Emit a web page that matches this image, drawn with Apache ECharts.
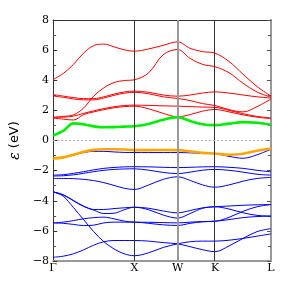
<!DOCTYPE html>
<html>
<head>
<meta charset="utf-8">
<script src="https://cdn.jsdelivr.net/npm/echarts@6/dist/echarts.min.js"></script>
<style>html,body{margin:0;padding:0;background:#fff}#c{width:291px;height:291px}</style>
</head>
<body>
<div id="c"></div>
<script>
// high-symmetry points (path distance) and labels
const kPos = [0, 1, 1.534, 1.994, 2.683];
const kLabels = ['Γ', 'X', 'W', 'K', 'L'];
// sample k positions along path
const kGrid = [0, 0.125, 0.25, 0.375, 0.5, 0.625, 0.75, 0.875, 1, 1.178, 1.356, 1.534, 1.687, 1.841, 1.994, 2.166, 2.339, 2.511, 2.683];
const yTicks = [-8, -6, -4, -2, 0, 2, 4, 6, 8];

// lowest conduction band (green) and top valence band (orange)
const condLowest = [0.33, 0.64, 1.14, 1.07, 0.94, 0.88, 0.89, 0.92, 0.95, 1.1, 1.38, 1.55, 1.3, 1.08, 1.02, 1.12, 1.22, 1.18, 1.04];
const valTop = [-1.2, -1.12, -0.95, -0.75, -0.62, -0.58, -0.58, -0.6, -0.64, -0.64, -0.63, -0.64, -0.72, -0.82, -0.86, -0.95, -0.88, -0.68, -0.53];

// other conduction bands (red)
const cb1 = [1.48, 1.42, 1.36, 1.72, 1.9, 2.05, 2.17, 2.25, 2.28, 2.1, 1.8, 1.57, 1.72, 1.95, 2.06, 1.9, 1.7, 1.55, 1.45];
const cb2 = [1.52, 1.55, 1.62, 1.8, 1.97, 2.12, 2.24, 2.32, 2.35, 2.33, 2.3, 2.28, 2.25, 2.22, 2.2, 2.0, 1.78, 1.6, 1.5];
const cb3 = [2.95, 2.87, 2.76, 2.7, 2.7, 2.82, 3.0, 3.14, 3.2, 3.1, 2.9, 2.79, 2.65, 2.45, 2.32, 2.05, 1.9, 2.25, 2.75];
const cb4 = [3.05, 2.95, 2.85, 2.78, 2.78, 2.9, 3.08, 3.22, 3.28, 3.2, 3.02, 2.94, 3.02, 3.15, 3.23, 3.15, 3.02, 2.9, 2.82];
const cb5 = [1.55, 1.6, 1.7, 2.15, 2.95, 3.5, 3.85, 3.98, 4.03, 4.5, 5.7, 6.04, 5.45, 5.05, 4.9, 4.5, 3.8, 3.22, 2.88];
const cb6 = [4.05, 4.45, 5.05, 5.8, 6.3, 6.4, 6.22, 6.02, 5.93, 6.08, 6.32, 6.55, 6.12, 5.9, 5.8, 5.25, 4.4, 3.58, 2.95];

// other valence bands (blue)
const vb1 = [-1.2, -1.12, -0.97, -0.8, -0.72, -0.72, -0.76, -0.79, -0.8, -0.8, -0.8, -0.8, -0.82, -0.85, -0.87, -1.05, -1.18, -0.95, -0.58];
const vb2 = [-2.3, -2.27, -2.18, -2.07, -1.95, -1.85, -1.79, -1.75, -1.74, -1.75, -1.78, -1.8, -1.78, -1.75, -1.74, -1.78, -1.85, -1.98, -2.08];
const vb3 = [-2.36, -2.34, -2.28, -2.18, -2.07, -1.98, -1.92, -1.89, -1.88, -1.97, -2.12, -2.2, -2.1, -1.97, -1.92, -1.98, -2.1, -2.24, -2.3];
const vb4 = [-2.52, -2.52, -2.53, -2.58, -2.66, -2.8, -2.98, -3.17, -3.25, -2.95, -2.58, -2.41, -2.65, -2.95, -3.1, -2.95, -2.7, -2.52, -2.45];
const vb5 = [-3.41, -3.6, -3.98, -4.35, -4.58, -4.58, -4.52, -4.47, -4.43, -4.5, -4.68, -4.8, -4.65, -4.47, -4.4, -4.35, -4.3, -4.27, -4.25];
const vb6 = [-3.41, -3.62, -4.0, -4.38, -4.62, -4.85, -4.83, -4.6, -4.43, -4.6, -4.95, -5.15, -4.85, -4.5, -4.4, -4.55, -4.8, -4.97, -5.02];
const vb7 = [-3.41, -3.7, -4.45, -5.25, -6.05, -6.72, -7.2, -7.52, -7.65, -7.45, -7.1, -6.86, -6.72, -6.68, -6.68, -6.62, -6.5, -6.35, -6.2];
const vb8 = [-5.47, -5.42, -5.32, -5.2, -5.12, -5.09, -5.2, -5.35, -5.42, -5.43, -5.45, -5.47, -5.42, -5.38, -5.36, -5.1, -4.7, -4.4, -4.25];
const vb9 = [-5.47, -5.5, -5.57, -5.65, -5.62, -5.47, -5.42, -5.42, -5.42, -5.5, -5.6, -5.64, -5.5, -5.4, -5.36, -5.25, -5.12, -5.05, -5.02];
const vb10 = [-7.75, -7.68, -7.52, -7.26, -6.95, -6.72, -6.64, -6.64, -6.64, -6.68, -6.78, -6.86, -7.05, -7.25, -7.38, -7.0, -6.5, -6.05, -5.85];

const redBands = [cb1, cb2, cb3, cb4, cb5, cb6];
const blueBands = [vb1, vb2, vb3, vb4, vb5, vb6, vb7, vb8, vb9, vb10];

function pts(band) { return kGrid.map((k, i) => [k, band[i]]); }
function bandSeries(band, color, width, z) {
  return { type: 'line', data: pts(band), showSymbol: false, smooth: 0.35, silent: true, z: z,
    lineStyle: { color: color, width: width } };
}

const series = [];
series.push({
  type: 'line', data: [], silent: true, z: 1,
  markLine: {
    symbol: 'none', silent: true, label: { show: false }, animation: false,
    data: [
      { xAxis: kPos[1], lineStyle: { color: '#333', width: 1, type: 'solid' } },
      { xAxis: kPos[2], lineStyle: { color: '#999', width: 2, type: 'solid' } },
      { xAxis: kPos[3], lineStyle: { color: '#333', width: 1, type: 'solid' } },
      { yAxis: 0, lineStyle: { color: '#aaa', width: 1, type: [2, 2] } }
    ]
  }
});
blueBands.forEach(b => series.push(bandSeries(b, '#0000ff', 1, 2)));
redBands.forEach(b => series.push(bandSeries(b, '#ff0000', 1, 2)));
series.push(bandSeries(valTop, '#ffa500', 2.6, 3));
series.push(bandSeries(condLowest, '#00ee00', 2.6, 3));

const chart = echarts.init(document.getElementById('c'), null, { renderer: 'canvas' });
chart.setOption({
  animation: false,
  backgroundColor: '#fff',
  grid: { left: 52, top: 20, width: 219, height: 241, containLabel: false },
  xAxis: [{
    type: 'value', min: kPos[0], max: kPos[4], position: 'bottom',
    axisLine: { show: true, onZero: false, lineStyle: { color: '#999', width: 2 } },
    axisTick: { show: false }, splitLine: { show: false },
    axisLabel: {
      customValues: kPos, showMinLabel: true, showMaxLabel: true,
      formatter: v => { let best = 0; kPos.forEach((p, i) => { if (Math.abs(p - v) < Math.abs(kPos[best] - v)) best = i; }); return kLabels[best]; },
      fontFamily: 'DejaVu Serif', fontSize: 11, color: '#000', margin: 2
    }
  }, {
    type: 'value', min: kPos[0], max: kPos[4], position: 'top',
    axisLine: { show: true, onZero: false, lineStyle: { color: '#333', width: 1 } },
    axisTick: { show: false }, axisLabel: { show: false }, splitLine: { show: false }
  }],
  yAxis: [{
    type: 'value', min: yTicks[0], max: yTicks[yTicks.length - 1], interval: 2, position: 'left',
    axisLine: { show: true, onZero: false, lineStyle: { color: '#333', width: 1 } },
    axisTick: { show: true, inside: true, length: 4, lineStyle: { color: '#333' } },
    minorTick: { show: true, splitNumber: 2, length: 3, lineStyle: { color: '#555' } },
    splitLine: { show: false },
    axisLabel: { formatter: v => String(v).replace('-', '\u2212'), fontFamily: 'DejaVu Serif', fontSize: 11, color: '#000', margin: 4 },
    name: '{e|ε} (eV)', nameLocation: 'middle', nameGap: 23, nameRotate: 90,
    nameTextStyle: { fontFamily: 'DejaVu Sans', fontSize: 13, color: '#000',
      rich: { e: { fontFamily: 'DejaVu Serif', fontStyle: 'italic', fontSize: 14, color: '#000' } } }
  }, {
    type: 'value', min: yTicks[0], max: yTicks[yTicks.length - 1], interval: 2, position: 'right',
    axisLine: { show: true, onZero: false, lineStyle: { color: '#999', width: 2 } },
    axisTick: { show: true, inside: true, length: 4, lineStyle: { color: '#555' } },
    minorTick: { show: true, splitNumber: 2, length: 3, lineStyle: { color: '#555' } },
    splitLine: { show: false }, axisLabel: { show: false }
  }],
  series: series
});
</script>
</body>
</html>
